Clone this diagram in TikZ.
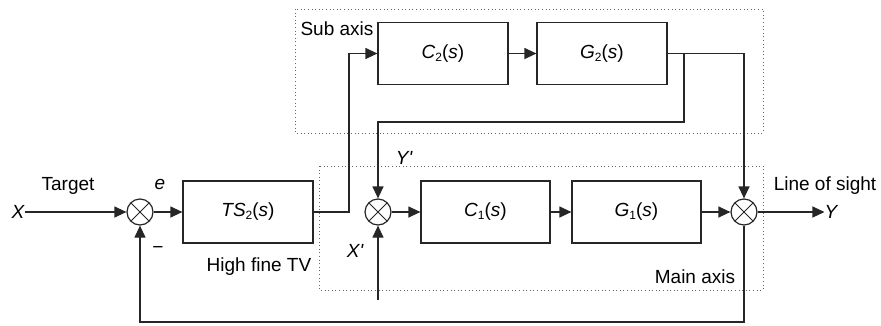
\documentclass[tikz,border=0pt]{standalone}
\usepackage{fontspec}
\setmainfont{Liberation Sans}
\usetikzlibrary{arrows.meta}
\newcommand{\sbs}[1]{\raisebox{-3pt}{\fontsize{12}{12}\selectfont #1}}
\begin{document}
\begin{tikzpicture}[x=1pt,y=-1pt,
  font=\fontsize{19}{22}\selectfont,
  ln/.style={line width=1.2pt, draw=black!85},
  arr/.style={ln, -{Triangle[length=12pt,width=11pt]}},
  blk/.style={draw=black!85, line width=1.2pt, minimum width=130pt, minimum height=62pt, inner sep=0pt},
  sumnode/.style={circle, draw=black!85, line width=1.2pt, minimum size=26pt, inner sep=0pt,
    path picture={\draw[line width=1pt,black!85] (path picture bounding box.north west) -- (path picture bounding box.south east)
      (path picture bounding box.north east) -- (path picture bounding box.south west);}},
  zone/.style={draw=black!60, line width=1pt, dash pattern=on 1pt off 2.6pt},
  lbl/.style={inner sep=0pt}
]
\useasboundingbox (0,0) rectangle (881,325);
% zones
\draw[zone] (295,9) rectangle (763,133);
\draw[zone] (319,166) rectangle (763,290);
% nodes
\node[sumnode] (s1) at (140,212) {};
\node[blk] (ts) at (248,212) {\itshape TS\upshape\sbs{2}(\itshape s\upshape)};
\node[sumnode] (s2) at (378,212) {};
\node[blk, minimum width=129pt] (c1) at (485.5,212) {\itshape C\upshape\sbs{1}(\itshape s\upshape)};
\node[blk, minimum width=129pt] (g1) at (636.5,212) {\itshape G\upshape\sbs{1}(\itshape s\upshape)};
\node[sumnode] (s3) at (744,212) {};
\node[blk] (c2) at (443,53.5) {\itshape C\upshape\sbs{2}(\itshape s\upshape)};
\node[blk] (g2) at (602,53.5) {\itshape G\upshape\sbs{2}(\itshape s\upshape)};
% labels
\node[lbl] (xl) at (18,212) {\itshape X};
\node[lbl] (yl) at (831,212) {\itshape Y};
\node[lbl] at (68,186) {Target};
\node[lbl] at (160,184) {\itshape e};
\node[lbl] at (158,250) {−};
\node[lbl] at (259,267) {High fine TV};
\node[lbl] at (337,29) {Sub axis};
\node[lbl] at (695,277) {Main axis};
\node[lbl] at (825,186) {Line of sight};
\node[lbl] at (355,251) {\itshape X\textquotesingle};
\node[lbl] at (404,158) {\itshape Y\textquotesingle};
% coordinates
\coordinate (xp) at (378,300);
\coordinate (br) at (684,53.5);
\coordinate (up) at (349,212);
\coordinate (fb) at (744,322);
% connectors
\draw[arr] (xl.east) -- (s1.west);
\draw[arr] (s1.east) -- (ts.west);
\draw[arr] (ts.east) -- (up) |- (c2.west);
\draw[arr] (c2.east) -- (g2.west);
\draw[arr] (g2.east) -| (s3.north);
\draw[arr] (br) -- (684,122) -| (s2.north);
\draw[arr] (s2.east) -- (c1.west);
\draw[arr] (c1.east) -- (g1.west);
\draw[arr] (g1.east) -- (s3.west);
\draw[arr] (s3.east) -- (yl.west);
\draw[arr] (xp) -- (s2.south);
\draw[arr] (s3.south) -- (fb) -| (s1.south);
\end{tikzpicture}
\end{document}
